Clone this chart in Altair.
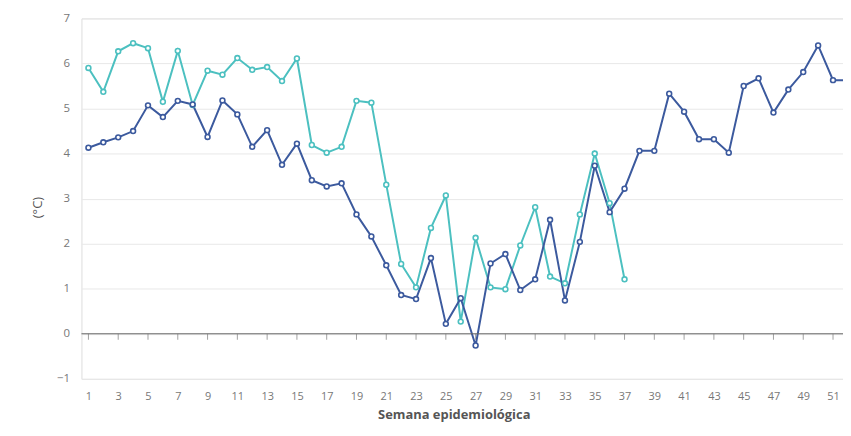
import altair as alt
import pandas as pd

weeks_dark = list(range(1, 53))
dark_values = [4.13, 4.25, 4.36, 4.50, 5.07, 4.81, 5.17, 5.09, 4.37, 5.18,
               4.87, 4.15, 4.52, 3.75, 4.22, 3.41, 3.27, 3.34, 2.65, 2.16,
               1.52, 0.86, 0.77, 1.68, 0.22, 0.79, -0.26, 1.56, 1.77, 0.97,
               1.21, 2.53, 0.74, 2.04, 3.73, 2.70, 3.22, 4.06, 4.06, 5.33,
               4.93, 4.32, 4.32, 4.02, 5.50, 5.67, 4.91, 5.42, 5.81, 6.40,
               5.63, 5.63]
weeks_teal = list(range(1, 38))
teal_values = [5.90, 5.37, 6.27, 6.45, 6.34, 5.15, 6.28, 5.08, 5.84, 5.75,
               6.12, 5.86, 5.92, 5.61, 6.11, 4.19, 4.02, 4.15, 5.17, 5.13,
               3.31, 1.55, 1.03, 2.35, 3.07, 0.27, 2.13, 1.03, 0.99, 1.96,
               2.81, 1.27, 1.12, 2.65, 4.00, 2.90, 1.21]
series_names = ["2023", "2022"]
series_colors = ["#4cc0c0", "#3c5a9e"]
x_tick_values = list(range(1, 52, 2))
y_tick_values = list(range(-1, 8))

df = pd.concat([
    pd.DataFrame({"week": weeks_teal, "value": teal_values, "serie": series_names[0]}),
    pd.DataFrame({"week": weeks_dark, "value": dark_values, "serie": series_names[1]}),
])

FONT = "Open Sans"
x_scale = alt.Scale(domain=[0.533, 51.67], nice=False, zero=False)
y_scale = alt.Scale(domain=[-1, 7], nice=False, zero=False)
color_scale = alt.Scale(domain=series_names, range=series_colors)

x_axis = alt.Axis(values=x_tick_values, title="Semana epidemiológica",
                  grid=False, domain=False, ticks=False, labelPadding=12,
                  labelFont=FONT, labelFontSize=11, labelColor="#777",
                  labelOverlap=False, labelFlush=False,
                  titleFont=FONT, titleFontSize=13, titleFontWeight="bold",
                  titleColor="#555", titleX=375, titleY=36,
                  titleBaseline="middle")
y_axis = alt.Axis(values=y_tick_values, title="(°C)", grid=True,
                  gridColor="#e8e8e8", domain=False, ticks=False,
                  labelPadding=12, labelFont=FONT, labelFontSize=11.5,
                  labelColor="#777", labelOverlap=False, titleFont=FONT, titleFontSize=13,
                  titleFontWeight="normal", titleColor="#555",
                  titleX=-44, titleY=190, titleBaseline="middle",
                  titleAngle=270)

x_enc = alt.X("week:Q", scale=x_scale, axis=x_axis)
y_enc = alt.Y("value:Q", scale=y_scale, axis=y_axis)

base = alt.Chart(df)

lines = base.mark_line(strokeWidth=2, clip=True).encode(
    x=x_enc, y=y_enc,
    color=alt.Color("serie:N", scale=color_scale, legend=None),
    order=alt.Order("week:Q"),
    detail="serie:N",
)

zero_rule = alt.Chart(pd.DataFrame({"value": [0]})).mark_rule(
    color="#666", strokeWidth=1).encode(y=y_enc)

zero_ticks = alt.Chart(pd.DataFrame({"week": x_tick_values, "value": [0] * len(x_tick_values)})).mark_tick(
    orient="vertical", size=6, yOffset=3, thickness=1, color="#777"
).encode(x=x_enc, y=y_enc)

points = base.mark_point(shape="circle", size=24, strokeWidth=1.6, filled=False,
                         fill="white", fillOpacity=1, opacity=1, clip=True).encode(
    x=x_enc,
    y=y_enc,
    stroke=alt.Stroke("serie:N", scale=color_scale, legend=None),
)

chart = alt.layer(lines, zero_rule, zero_ticks, points).properties(
    width=767, height=363,
    padding={"left": 74, "top": 9, "right": 0, "bottom": 43},
    autosize=alt.AutoSizeParams(type="none"),
).configure_view(stroke=None).configure(background="white")

chart.save("out.html", embed_options={"renderer": "svg", "actions": False})
